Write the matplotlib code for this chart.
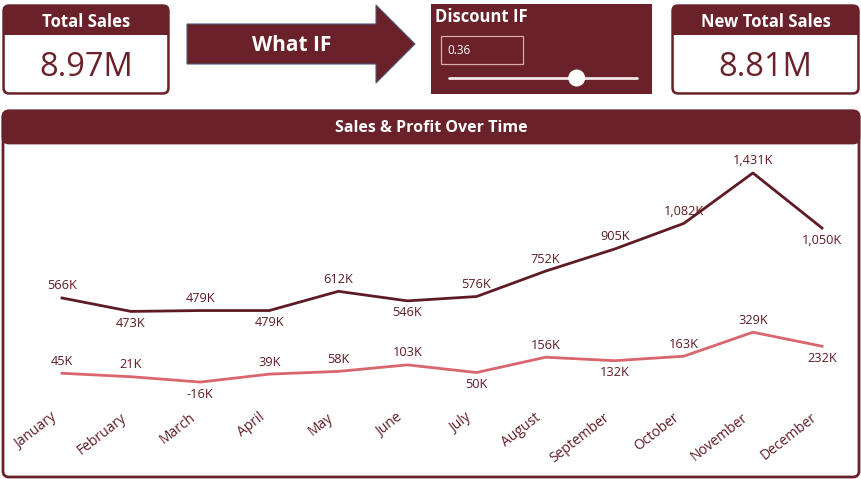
import matplotlib.pyplot as plt
from matplotlib.patches import FancyBboxPatch, Rectangle, Polygon, Circle

plt.rcParams['font.family'] = ['Open Sans', 'DejaVu Sans']

# data
months = ["January", "February", "March", "April", "May", "June", "July",
          "August", "September", "October", "November", "December"]
sales_k = [566, 473, 479, 479, 612, 546, 576, 752, 905, 1082, 1431, 1050]
profit_k = [45, 21, -16, 39, 58, 103, 50, 156, 132, 163, 329, 232]
# label side: 1 above, -1 below
sales_side = [1, -1, 1, -1, 1, -1, 1, 1, 1, 1, 1, -1]
profit_side = [1, 1, -1, 1, 1, 1, -1, 1, -1, 1, 1, -1]
total_sales = "8.97M"
new_total_sales = "8.81M"
discount = 0.36
discount_max = 0.53

MAROON = "#6a2129"
SALES_C = "#5f1b24"
PROFIT_C = "#d9666d"

W, H = 862, 479
fig = plt.figure(figsize=(W / 100, H / 100), dpi=100)
bg = fig.add_axes([0, 0, 1, 1])
bg.set_xlim(0, W)
bg.set_ylim(H, 0)
bg.axis("off")


def card(x0, x1, y0, y1, head_y, title, value):
    bg.add_patch(FancyBboxPatch((x0, y0), x1 - x0, y1 - y0,
                                boxstyle="round,pad=0,rounding_size=6",
                                fc=MAROON, ec=MAROON, lw=1))
    bg.add_patch(FancyBboxPatch((x0 + 1.8, y0 + 15), x1 - x0 - 3.6, y1 - y0 - 16.8,
                                boxstyle="round,pad=0,rounding_size=4.5",
                                fc="white", ec="none"))
    bg.add_patch(Rectangle((x0 + 1, y0 + 10), x1 - x0 - 2, head_y - y0 - 10,
                           fc=MAROON, ec="none"))
    bg.text((x0 + x1) / 2, (y0 + head_y) / 2 + 2, title, color="white",
            fontsize=12, fontweight="bold", ha="center", va="center")
    bg.text((x0 + x1) / 2, (head_y + y1) / 2 + 3, value, color=MAROON,
            fontsize=23.5, ha="center", va="center")


card(3, 169, 5, 94, 35, "Total Sales", total_sales)
card(672, 859, 5, 94, 35, "New Total Sales", new_total_sales)

# arrow
arrow = Polygon([(187, 24), (376, 24), (376, 5), (415, 44), (376, 83),
                 (376, 64), (187, 64)], closed=True, fc=MAROON,
                ec="#4d5b7c", lw=0.8)
bg.add_patch(arrow)
bg.text(292, 45, "What IF", color="white", fontsize=15, fontweight="bold",
        ha="center", va="center")

# discount slicer
bg.add_patch(Rectangle((431, 4), 221, 90, fc=MAROON, ec="none"))
bg.text(435, 17, "Discount IF", color="white", fontsize=12,
        fontweight="bold", ha="left", va="center")
bg.add_patch(Rectangle((441, 36), 82, 28, fc="none", ec="#d9a9ad", lw=0.9))
bg.text(447, 50, f"{discount:.2f}", color="white", fontsize=8.5,
        ha="left", va="center")
sx0, sx1 = 449, 637
knob_x = sx0 + (sx1 - sx0) * discount / discount_max
bg.plot([sx0, sx1], [78, 78], color="#f2e6e7", lw=2, solid_capstyle="round")
bg.add_patch(Circle((knob_x, 78), 8.5, fc="white", ec="none", zorder=3))

# chart panel
bg.add_patch(FancyBboxPatch((3, 111), 856, 366,
                            boxstyle="round,pad=0,rounding_size=6",
                            fc="white", ec=MAROON, lw=2))
bg.add_patch(FancyBboxPatch((3, 111), 856, 32,
                            boxstyle="round,pad=0,rounding_size=6",
                            fc=MAROON, ec=MAROON, lw=2))
bg.add_patch(Rectangle((4, 130), 854, 13, fc=MAROON, ec="none"))
bg.text(431, 127.5, "Sales & Profit Over Time", color="white", fontsize=11.5,
        fontweight="bold", ha="center", va="center")

# line chart
step = (822 - 62) / 11
left = 62 - 0.5 * step
ax = fig.add_axes([left / W, (H - 400) / H, 12 * step / W, 250 / H])
ax.set_xlim(-0.5, 11.5)
ax.set_ylim(-140, 1590)
ax.axis("off")
ax.patch.set_alpha(0)

x = list(range(len(months)))
ax.plot(x, sales_k, color=SALES_C, lw=2)
ax.plot(x, profit_k, color=PROFIT_C, lw=2)


def fmt(v):
    return f"{v:,}K"


for i, (v, s) in enumerate(zip(sales_k, sales_side)):
    ax.annotate(fmt(v), (i, v), xytext=(0, 12 * s), textcoords="offset pixels",
                ha="center", va="center", fontsize=9.2, color=SALES_C)
for i, (v, s) in enumerate(zip(profit_k, profit_side)):
    ax.annotate(fmt(v), (i, v), xytext=(0, 12 * s), textcoords="offset pixels",
                ha="center", va="center", fontsize=9.2, color=SALES_C)

for i, m in enumerate(months):
    ax.annotate(m, (i, -140), xytext=(-2, -10), textcoords="offset pixels",
                ha="right", va="top", rotation=38, fontsize=10, color=SALES_C)

fig.savefig("out.png", dpi=100)
